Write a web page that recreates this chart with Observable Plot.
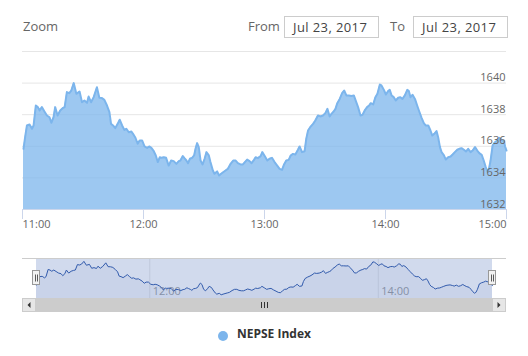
<!DOCTYPE html>
<html><head><meta charset="utf-8">
<script src="https://cdn.jsdelivr.net/npm/d3@7"></script>
<script src="https://cdn.jsdelivr.net/npm/@observablehq/plot@0.6"></script>
<style>
body{margin:0;background:#fff;font-family:"Open Sans",sans-serif;}
#wrap{position:relative;width:528px;height:356px;overflow:hidden;background:#fff;}
.abs{position:absolute;white-space:nowrap;}
.lbl{font-size:13px;color:#666;line-height:18px;}
.box{box-sizing:border-box;border:1px solid #cccccc;height:22px;font-size:13px;color:#444;line-height:20px;padding-left:8px;letter-spacing:0.4px;}
#main{position:absolute;left:0;top:46px;}
#nav{position:absolute;left:0;top:240px;}
.leg-dot{width:10px;height:10px;border-radius:50%;background:#7cb5ec;}
.leg-txt{font-size:12px;font-weight:bold;color:#333;line-height:16px;}
</style></head>
<body><div id="wrap">
<div class="abs lbl" id="zoomLbl" style="left:23px;top:17px;"></div>
<div class="abs lbl" id="fromLbl" style="left:248px;top:17px;"></div>
<div class="abs box" id="fromBox" style="left:284px;top:16px;width:95px;"></div>
<div class="abs lbl" id="toLbl" style="left:390px;top:17px;"></div>
<div class="abs box" id="toBox" style="left:413px;top:16px;width:95px;"></div>
<div id="main"></div>
<div id="nav"></div>
<div class="abs leg-dot" style="left:218px;top:331px;"></div>
<div class="abs leg-txt" id="legTxt" style="left:237px;top:326px;"></div>
</div>
<script>
// ---- data ----
const seriesName = "NEPSE Index";
const dateLabel = "Jul 23, 2017";
const zoomText = "Zoom", fromText = "From", toText = "To";
// minutes after 11:00
const minutes = [0.5,1.3,2.2,3.5,4.7,5.5,6.6,7.6,8.5,9.6,10.8,12.1,13.4,14.3,15.4,16.2,17.4,18.7,19.9,20.9,
22.0,23.2,24.2,25.4,26.7,28.3,29.5,30.7,32.0,32.8,34.0,35.3,36.9,38.1,39.4,40.6,41.9,43.1,43.9,44.9,
46.0,47.2,48.2,49.4,50.5,51.5,52.7,54.0,54.8,56.0,57.1,58.1,59.3,60.5,61.8,62.8,63.9,65.1,66.1,67.1,
68.1,68.9,70.1,71.2,72.5,73.7,75.0,76.3,77.5,78.3,79.5,80.3,81.3,82.1,83.0,84.1,85.1,85.8,86.6,87.4,
88.3,89.3,90.3,91.2,92.4,93.2,94.4,95.2,96.5,97.5,98.5,99.5,100.7,101.8,103.2,104.5,105.7,106.8,108.1,109.3,
110.3,111.4,112.6,113.6,114.8,115.6,116.7,118.1,118.9,120.1,121.4,122.5,123.7,125.0,126.3,127.5,128.7,129.7,130.8,132.0,
133.0,134.1,135.3,136.6,137.4,138.6,139.9,140.7,141.6,142.9,144.1,145.2,146.5,147.7,149.0,150.2,151.2,152.3,153.2,154.3,
155.2,156.1,157.3,158.5,159.5,160.6,161.8,163.1,164.3,165.1,166.4,167.6,168.6,169.7,170.9,171.9,172.7,173.9,175.0,176.0,
177.2,178.0,179.2,180.2,181.3,182.1,183.0,184.1,185.1,186.3,187.4,188.4,189.6,190.8,191.6,192.4,193.4,194.6,195.7,196.7,
197.9,199.0,199.9,201.2,202.3,203.2,204.2,205.3,206.1,207.0,207.8,209.0,209.9,211.1,212.3,213.3,214.4,215.6,216.6,217.7,
218.9,219.9,221.0,222.2,223.2,224.4,225.5,226.5,227.7,228.7,229.7,230.5,231.3,232.1,233.1,234.3,235.4,236.4,237.6,238.8,
239.3,240.0];
const values = [1635.84,1636.58,1637.32,1637.38,1637.11,1637.32,1638.58,1638.48,1638.27,1638.48,1638.22,1637.95,1637.84,1637.49,1637.84,1638.48,1637.95,1638.27,1638.41,1638.48,
1639.43,1639.36,1639.53,1640.00,1639.32,1639.47,1638.79,1638.90,1638.75,1639.15,1638.79,1639.11,1639.74,1639.07,1639.05,1638.94,1638.58,1638.16,1637.42,1637.32,
1637.15,1637.42,1637.68,1637.32,1637.04,1637.11,1636.89,1636.94,1636.79,1636.54,1636.16,1636.37,1636.37,1635.99,1635.90,1635.99,1635.90,1635.69,1635.42,1635.00,
1635.31,1635.27,1635.31,1635.27,1634.78,1635.10,1635.06,1634.89,1635.06,1635.10,1635.38,1635.25,1635.10,1634.93,1635.21,1635.27,1635.42,1635.84,1636.20,1635.95,
1635.10,1634.85,1635.21,1635.63,1635.42,1635.00,1634.47,1634.26,1634.41,1634.15,1634.26,1634.36,1634.47,1634.57,1634.89,1635.10,1635.10,1634.93,1634.85,1634.85,
1635.00,1635.16,1635.06,1634.93,1635.14,1635.31,1635.25,1635.38,1635.63,1635.38,1635.10,1635.21,1635.27,1635.00,1634.78,1634.57,1634.51,1634.85,1635.10,1635.14,
1635.42,1635.52,1635.48,1635.78,1635.99,1635.63,1635.69,1636.47,1637.00,1637.25,1637.42,1637.63,1637.95,1637.89,1637.95,1638.10,1638.37,1637.89,1638.05,1638.20,
1638.37,1638.73,1639.00,1639.36,1639.53,1639.22,1639.22,1639.19,1639.22,1638.94,1638.48,1637.95,1637.99,1638.27,1638.48,1638.58,1638.73,1638.65,1639.11,1639.32,
1639.91,1639.85,1639.57,1639.28,1639.49,1639.57,1639.22,1639.11,1638.90,1639.07,1639.11,1639.00,1639.22,1639.57,1639.49,1639.11,1639.26,1639.00,1638.58,1638.22,
1637.80,1637.46,1637.32,1637.32,1637.00,1636.68,1636.79,1636.96,1636.58,1635.95,1635.63,1635.42,1635.16,1635.31,1635.35,1635.48,1635.63,1635.78,1635.84,1635.88,
1635.78,1635.67,1635.84,1635.63,1635.73,1635.95,1635.73,1635.57,1635.46,1635.10,1634.68,1634.43,1634.57,1635.10,1636.05,1636.26,1636.37,1636.54,1636.41,1636.31,
1635.99,1635.73];
const yGridTicks = [1632,1634,1636,1638,1640,1642];
const yLabelTicks = [1632,1634,1636,1638,1640];
const xTickHours = [11,12,13,14,15];
const navTickHours = [12,14];
const yDomain = [1632,1642];
const navYDomain = [1633.5,1640.5];

// ---- build ----
document.getElementById("zoomLbl").textContent = zoomText;
document.getElementById("fromLbl").textContent = fromText;
document.getElementById("toLbl").textContent = toText;
document.getElementById("fromBox").textContent = dateLabel;
document.getElementById("toBox").textContent = dateLabel;
document.getElementById("legTxt").textContent = seriesName;

const hourDate = h => new Date(2017,6,23,h,0,0);
const base = hourDate(11);
const data = minutes.map((m,i)=>({t:new Date(+base + m*60000), v:values[i]}));
const xTicks = xTickHours.map(hourDate);
const navTicks = navTickHours.map(hourDate);
const fmt = d3.timeFormat("%H:%M");
const font = '"Open Sans", sans-serif';
const xEnd = xTicks[xTicks.length-1];

const main = Plot.plot({
  width:528, height:194, marginTop:5, marginBottom:31, marginLeft:22, marginRight:22,
  style:{fontFamily:font, fontSize:"11px", background:"transparent", overflow:"visible"},
  x:{type:"time", domain:[xTicks[0], xEnd], axis:null},
  y:{domain:yDomain, axis:null},
  marks:[
    Plot.ruleY(yGridTicks,{stroke:"#e6e6e6", strokeWidth:1}),
    Plot.areaY(data,{x:"t", y1:()=>yDomain[0], y2:"v", fill:"#7cb5ec", fillOpacity:0.75}),
    Plot.lineY(data,{x:"t", y:"v", stroke:"#7cb5ec", strokeWidth:2}),
    Plot.ruleY([yDomain[0]],{stroke:"#ccd6eb"}),
    Plot.axisX({ticks:xTicks.slice(0,1), tickFormat:fmt, tickSize:10, tickPadding:1, textAnchor:"start", stroke:"#ccd6eb", fill:"#666", label:null}),
    Plot.axisX({ticks:xTicks.slice(1,-1), tickFormat:fmt, tickSize:10, tickPadding:1, stroke:"#ccd6eb", fill:"#666", label:null}),
    Plot.axisX({ticks:xTicks.slice(-1), tickFormat:fmt, tickSize:10, tickPadding:1, textAnchor:"end", stroke:"#ccd6eb", fill:"#666", label:null}),
    Plot.text(yLabelTicks,{x:()=>xEnd, y:d=>d, text:d=>String(d), textAnchor:"end", lineAnchor:"bottom", dx:-1, dy:-2, fill:"#666"})
  ]
});
document.getElementById("main").appendChild(main);

const ext = d3.extent(data, d=>d.t);
const nav = Plot.plot({
  width:528, height:75, marginTop:18, marginBottom:17, marginLeft:36, marginRight:36,
  style:{fontFamily:font, fontSize:"11px", background:"transparent", overflow:"visible"},
  x:{type:"time", domain:ext, axis:null},
  y:{domain:navYDomain, axis:null},
  marks:[
    Plot.ruleX(navTicks,{stroke:"#e6e6e6"}),
    Plot.text(navTicks,{x:d=>d, frameAnchor:"bottom", text:fmt, textAnchor:"start", lineAnchor:"bottom", dx:3, dy:-4, fill:"#999"}),
    Plot.rect([ext],{x1:d=>d[0], x2:d=>d[1], fill:"rgb(102,133,194)", fillOpacity:0.3}),
    Plot.areaY(data,{x:"t", y1:()=>navYDomain[0], y2:"v", fill:"#335cad", fillOpacity:0.05}),
    Plot.lineY(data,{x:"t", y:"v", stroke:"#335cad", strokeWidth:1})
  ]
});
document.getElementById("nav").appendChild(nav);

// navigator chrome (outline, handles, scrollbar) positioned from the scale
const xs = nav.scale("x");
const s0 = xs.apply(ext[0]), s1 = xs.apply(ext[1]);
const sb = 14, navTop = 18, navBot = 58;
const g = d3.select(nav).append("g");
g.append("line").attr("x1",s0-sb).attr("x2",s1+sb).attr("y1",navTop+0.5).attr("y2",navTop+0.5).attr("stroke","#cccccc");
// scrollbar
g.append("rect").attr("x",s0-sb).attr("y",navBot).attr("width",s1-s0+2*sb).attr("height",sb).attr("fill","#f2f2f2");
g.append("rect").attr("x",s0).attr("y",navBot).attr("width",s1-s0).attr("height",sb).attr("fill","#cccccc");
const cx = (s0+s1)/2;
[-3,0,3].forEach(d=>g.append("line").attr("x1",Math.round(cx+d)+0.5).attr("x2",Math.round(cx+d)+0.5).attr("y1",navBot+4).attr("y2",navBot+10).attr("stroke","#333"));
[[s0-sb,-1],[s1,1]].forEach(([bx,dir])=>{
  g.append("rect").attr("x",bx+0.5).attr("y",navBot+0.5).attr("width",sb-1).attr("height",sb-1).attr("fill","#e6e6e6").attr("stroke","#cccccc");
  const ax = bx+sb/2, ay = navBot+sb/2;
  g.append("path").attr("d",`M${ax+dir*1.5},${ay} L${ax-dir*1.5},${ay-3} L${ax-dir*1.5},${ay+3} Z`).attr("fill","#333");
});
// handles
[s0,s1].forEach(hx=>{
  const hy = (navTop+navBot)/2;
  g.append("rect").attr("x",Math.round(hx)-3.5).attr("y",hy-7.5).attr("width",7).attr("height",14).attr("fill","#f2f2f2").attr("stroke","#999999");
  [-1,1].forEach(d=>g.append("line").attr("x1",Math.round(hx)+d+0.5).attr("x2",Math.round(hx)+d+0.5).attr("y1",hy-3.5).attr("y2",hy+3.5).attr("stroke","#333").attr("stroke-width",0.8));
});
</script>
</body></html>
